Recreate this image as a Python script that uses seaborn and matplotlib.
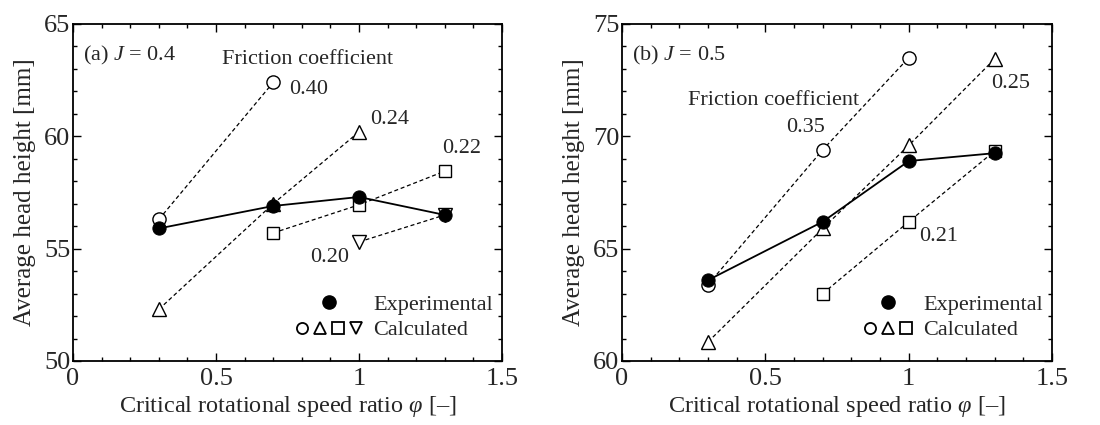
import numpy as np
import pandas as pd
import matplotlib
matplotlib.use("Agg")
import matplotlib.pyplot as plt
from matplotlib.lines import Line2D
from matplotlib.legend_handler import HandlerTuple
from matplotlib.ticker import MultipleLocator
import seaborn as sns

# ---------------- data ----------------
# (a) J = 0.4
a_exp_x = [0.3, 0.7, 1.0, 1.3]
a_exp_y = [55.9, 56.9, 57.3, 56.5]
a_f040_x = [0.3, 0.7]
a_f040_y = [56.3, 62.4]
a_f024_x = [0.3, 0.7, 1.0]
a_f024_y = [52.3, 57.0, 60.2]
a_f022_x = [0.7, 1.0, 1.3]
a_f022_y = [55.7, 56.95, 58.45]
a_f020_x = [1.0, 1.3]
a_f020_y = [55.3, 56.5]

# (b) J = 0.5
b_exp_x = [0.3, 0.7, 1.0, 1.3]
b_exp_y = [63.6, 66.2, 68.9, 69.25]
b_f035_x = [0.3, 0.7, 1.0]
b_f035_y = [63.4, 69.4, 73.5]
b_f025_x = [0.3, 0.7, 1.0, 1.3]
b_f025_y = [60.85, 65.9, 69.6, 73.45]
b_f021_x = [0.7, 1.0, 1.3]
b_f021_y = [63.0, 66.2, 69.35]

sns.set_theme(style="ticks")
plt.rcParams["font.family"] = ["Liberation Serif", "DejaVu Serif"]
plt.rcParams["mathtext.fontset"] = "custom"
plt.rcParams["mathtext.rm"] = "Liberation Serif"
plt.rcParams["mathtext.it"] = "Liberation Serif:italic"
plt.rcParams["axes.unicode_minus"] = False

fig = plt.figure(figsize=(11, 4.25), dpi=100)
axA = fig.add_axes([0.0664, 0.1506, 0.39, 0.793])
axB = fig.add_axes([0.5655, 0.1506, 0.391, 0.793])

DASH = (0, (3.2, 2.2))


def calc(ax, xs, ys, marker, ms):
    sns.lineplot(x=xs, y=ys, ax=ax, color="black", linewidth=0.9,
                 linestyle=DASH, marker=marker, markersize=ms,
                 markerfacecolor="white", markeredgecolor="black",
                 markeredgewidth=1.0, errorbar=None, zorder=3)


def exper(ax, xs, ys):
    sns.lineplot(x=xs, y=ys, ax=ax, color="black", linewidth=1.3,
                 marker="o", markersize=9.5, markerfacecolor="black",
                 markeredgecolor="black", errorbar=None, zorder=5)


def style_axes(ax, ylo, yhi):
    ax.set_xlim(0, 1.5)
    ax.set_ylim(ylo, yhi)
    ax.set_xticks([0, 0.5, 1, 1.5])
    ax.set_xticklabels(["0", "0.5", "1", "1.5"])
    ax.set_yticks(np.arange(ylo, yhi + 1, 5))
    ax.xaxis.set_minor_locator(MultipleLocator(0.1))
    ax.yaxis.set_minor_locator(MultipleLocator(1))
    ax.tick_params(which="both", direction="in", top=True, right=True,
                   color="black", width=1.0)
    ax.tick_params(which="major", length=6, labelsize=19)
    ax.tick_params(which="minor", length=3)
    ax.tick_params(axis="x", pad=5)
    ax.tick_params(axis="y", pad=2)
    for s in ax.spines.values():
        s.set_linewidth(1.3)
        s.set_color("black")
        s.set_visible(True)
    ax.set_xlabel(r"Critical rotational speed ratio $\varphi$ [–]",
                  fontsize=17.5, labelpad=3)
    ax.set_ylabel("Average head height [mm]", fontsize=18, labelpad=6)


def legend(ax, shapes):
    exp_h = Line2D([], [], linestyle="none", marker="o", markersize=9.5,
                   markerfacecolor="black", markeredgecolor="black")
    calc_h = tuple(Line2D([], [], linestyle="none", marker=m, markersize=8,
                          markerfacecolor="white", markeredgecolor="black",
                          markeredgewidth=1.3) for m in shapes)
    ax.legend(handles=[exp_h, calc_h], labels=["Experimental", "Calculated"],
              handler_map={tuple: HandlerTuple(ndivide=None, pad=0)},
              frameon=False, loc="lower right", fontsize=16,
              handlelength=0.8 * len(shapes), handletextpad=0.4,
              labelspacing=0.23, borderaxespad=0.0,
              bbox_to_anchor=(1.0, 0.035))


# ---- panel (a)
calc(axA, a_f040_x, a_f040_y, "o", 9.5)
calc(axA, a_f024_x, a_f024_y, "^", 9.5)
calc(axA, a_f022_x, a_f022_y, "s", 9)
calc(axA, a_f020_x, a_f020_y, "v", 9.5)
exper(axA, a_exp_x, a_exp_y)
style_axes(axA, 50, 65)
axA.text(0.035, 63.6, "(a) $J$ = 0.4", fontsize=16, ha="left", va="center")
axA.text(0.82, 63.4, "Friction coefficient", fontsize=16, ha="center", va="center")
axA.text(0.755, 62.1, "0.40", fontsize=16, ha="left", va="center")
axA.text(1.04, 60.75, "0.24", fontsize=16, ha="left", va="center")
axA.text(1.29, 59.45, "0.22", fontsize=16, ha="left", va="center")
axA.text(0.965, 54.6, "0.20", fontsize=16, ha="right", va="center")
legend(axA, ["o", "^", "s", "v"])

# ---- panel (b)
calc(axB, b_f035_x, b_f035_y, "o", 9.5)
calc(axB, b_f025_x, b_f025_y, "^", 9.5)
calc(axB, b_f021_x, b_f021_y, "s", 9)
exper(axB, b_exp_x, b_exp_y)
style_axes(axB, 60, 75)
axB.text(0.035, 73.6, "(b) $J$ = 0.5", fontsize=16, ha="left", va="center")
axB.text(0.53, 71.6, "Friction coefficient", fontsize=16, ha="center", va="center")
axB.text(0.64, 70.4, "0.35", fontsize=16, ha="center", va="center")
axB.text(1.355, 72.35, "0.25", fontsize=16, ha="center", va="center")
axB.text(1.105, 65.55, "0.21", fontsize=16, ha="center", va="center")
legend(axB, ["o", "^", "s"])

fig.savefig("out.png", dpi=100, facecolor="white")
